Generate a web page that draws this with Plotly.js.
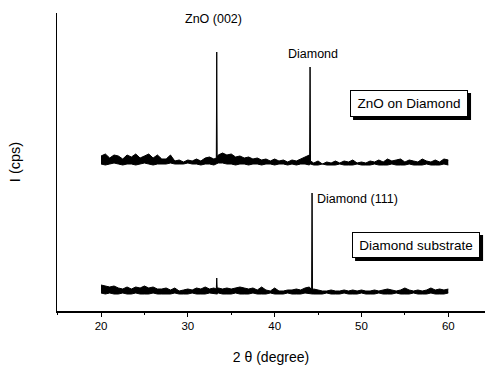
<!DOCTYPE html>
<html>
<head>
<meta charset="utf-8">
<script src="https://cdn.plot.ly/plotly-3.0.1.min.js"></script>
<style>html,body{margin:0;padding:0;background:#fff;}#chart{width:485px;height:369px;}</style>
</head>
<body>
<div id="chart"></div>
<script>
// ZnO on Diamond (upper spectrum), 2θ in degrees
const xTop = [20,20.5,21,21.5,22,22.5,23,23.5,24,24.5,25,25.5,26,26.5,27,27.5,28,28.5,29,29.5,30,30.5,31,31.5,32,32.5,33,33.28,33.33,33.38,33.5,34,34.5,35,35.5,36,36.5,37,37.5,38,38.5,39,39.5,40,40.5,41,41.5,42,42.5,43,43.5,44,44.03,44.08,44.13,44.5,45,45.5,46,46.5,47,47.5,48,48.5,49,49.5,50,50.5,51,51.5,52,52.5,53,53.5,54,54.5,55,55.5,56,56.5,57,57.5,58,58.5,59,59.5,60];
const topUpper = [155,157,153,156,155,152,156,154,157,153,155,157,153,156,152,152,156,150,151,149,151,150,152,150,153,154,152,153,259,154,156,158,156,157,154,155,153,154,152,153,151,152,150,152,150,151,149,151,150,152,154,156,152,244,150,148,150,147,149,148,150,148,150,149,151,148,149,148,150,149,151,149,152,150,151,152,149,151,150,149,152,150,149,151,149,152,151];
const topLower = [147,146,147,148,147,146,147,147,146,147,148,147,146,147,147,147,148,147,147,147,148,147,147,146,147,147,146,147,147,147,148,148,147,147,146,147,147,146,147,147,146,147,147,146,147,147,146,147,146,147,147,146,147,147,147,146,146,147,146,146,146,147,146,146,146,147,146,146,146,147,146,146,146,147,146,146,146,147,146,146,146,147,146,146,146,147,146];

// Diamond substrate (lower spectrum)
const xBot = [20,20.5,21,21.5,22,22.5,23,23.5,24,24.5,25,25.5,26,26.5,27,27.5,28,28.5,29,29.5,30,30.5,31,31.5,32,32.5,33,33.28,33.33,33.38,33.5,34,34.5,35,35.5,36,36.5,37,37.5,38,38.5,39,39.5,40,40.5,41,41.5,42,42.5,43,43.5,44,44.26,44.31,44.36,44.5,45,45.5,46,46.5,47,47.5,48,48.5,49,49.5,50,50.5,51,51.5,52,52.5,53,53.5,54,54.5,55,55.5,56,56.5,57,57.5,58,58.5,59,59.5,60];
const botUpper = [26,25,24,25,23,22,24,22,24,23,25,23,24,22,22,23,21,23,20,21,22,21,23,22,24,22,23,22,33,23,23,22,23,22,23,24,23,22,23,21,24,21,20,23,20,20,21,21,22,21,23,24,21,118,21,22,21,20,20,21,20,20,21,20,21,20,21,20,20,21,20,21,22,21,20,21,23,21,20,21,20,21,23,21,22,21,22];
const botLower = [18,17,18,17,17,18,17,17,18,17,17,17,18,17,17,17,17,18,17,17,17,18,17,17,17,18,17,17,17,17,18,17,17,17,18,17,17,17,18,17,17,17,18,17,17,17,18,17,17,17,18,17,17,17,17,17,17,17,18,17,17,17,18,17,17,17,18,17,17,17,18,17,17,17,18,17,17,17,18,17,17,17,18,17,17,17,18];

const xTicks = [20,30,40,50,60];
const xTickText = ['20','30','40','50','60'];

const peakLabels = [
  {text:'ZnO (002)', x:32.9, y:292, xanchor:'center'},
  {text:'Diamond', x:44.42, y:257, xanchor:'center'},
  {text:'Diamond (111)', x:44.65, y:112, xanchor:'left'}
];
const boxLabels = [
  {text:'ZnO on Diamond', x:55.48, y:207.5, w:108, h:17},
  {text:'Diamond substrate', x:56.29, y:66, w:118, h:16}
];

const lineStyle = {color:'#000', width:1};
const traces = [
  {x:xTop, y:topLower, mode:'lines', line:lineStyle, hoverinfo:'skip', showlegend:false},
  {x:xTop, y:topUpper, mode:'lines', line:lineStyle, fill:'tonexty', fillcolor:'#000', hoverinfo:'skip', showlegend:false},
  {x:xBot, y:botLower, mode:'lines', line:lineStyle, hoverinfo:'skip', showlegend:false},
  {x:xBot, y:botUpper, mode:'lines', line:lineStyle, fill:'tonexty', fillcolor:'#000', hoverinfo:'skip', showlegend:false}
];

const font = {family:'"Liberation Sans", Arial, sans-serif', color:'#000'};
const annotations = [];
const shapes = [];
peakLabels.forEach(p => annotations.push({
  x:p.x, y:p.y, xref:'x', yref:'y', text:p.text, showarrow:false, xanchor:p.xanchor, yanchor:'middle',
  font:Object.assign({}, font, {size:12.5})
}));
const pad = 4, bw = 1, off = 3;
boxLabels.forEach(b => {
  const W = b.w + 2*pad + 2*bw, H = b.h + 2*pad + 2*bw;
  shapes.push({type:'rect', xref:'x', yref:'y', xsizemode:'pixel', ysizemode:'pixel',
    xanchor:b.x, yanchor:b.y, x0:-W/2+off, x1:W/2+off, y0:-H/2-off, y1:H/2-off,
    fillcolor:'#000', line:{width:0}, layer:'above'});
  annotations.push({x:b.x, y:b.y, xref:'x', yref:'y', text:b.text, showarrow:false,
    xanchor:'center', yanchor:'middle', width:b.w, height:b.h, align:'center', valign:'middle',
    bgcolor:'#fff', bordercolor:'#000', borderwidth:bw, borderpad:pad,
    font:Object.assign({}, font, {size:13.5})});
});

const layout = {
  width:485, height:369,
  margin:{l:57, r:0, t:13, b:58},
  paper_bgcolor:'#fff', plot_bgcolor:'#fff',
  font:font,
  showlegend:false,
  xaxis:{
    range:[14.93,64.23], showgrid:false, zeroline:false,
    showline:true, linecolor:'#000', linewidth:1.5,
    ticks:'outside', ticklen:4, tickwidth:1, tickcolor:'#000',
    tickvals:xTicks, ticktext:xTickText,
    tickfont:Object.assign({}, font, {size:11.5}),
    minor:{dtick:5, tick0:0, ticks:'outside', ticklen:2, tickcolor:'#000'},
    title:{text:'2 θ (degree)', font:Object.assign({}, font, {size:14}), standoff:21}
  },
  yaxis:{
    range:[0,298], showgrid:false, zeroline:false,
    showline:true, linecolor:'#000', linewidth:1.5,
    ticks:'', showticklabels:false,
    title:{text:'I (cps)', font:Object.assign({}, font, {size:14.5}), standoff:31}
  },
  shapes:shapes,
  annotations:annotations
};

Plotly.newPlot('chart', traces, layout, {displayModeBar:false, staticPlot:true});
</script>
</body>
</html>
